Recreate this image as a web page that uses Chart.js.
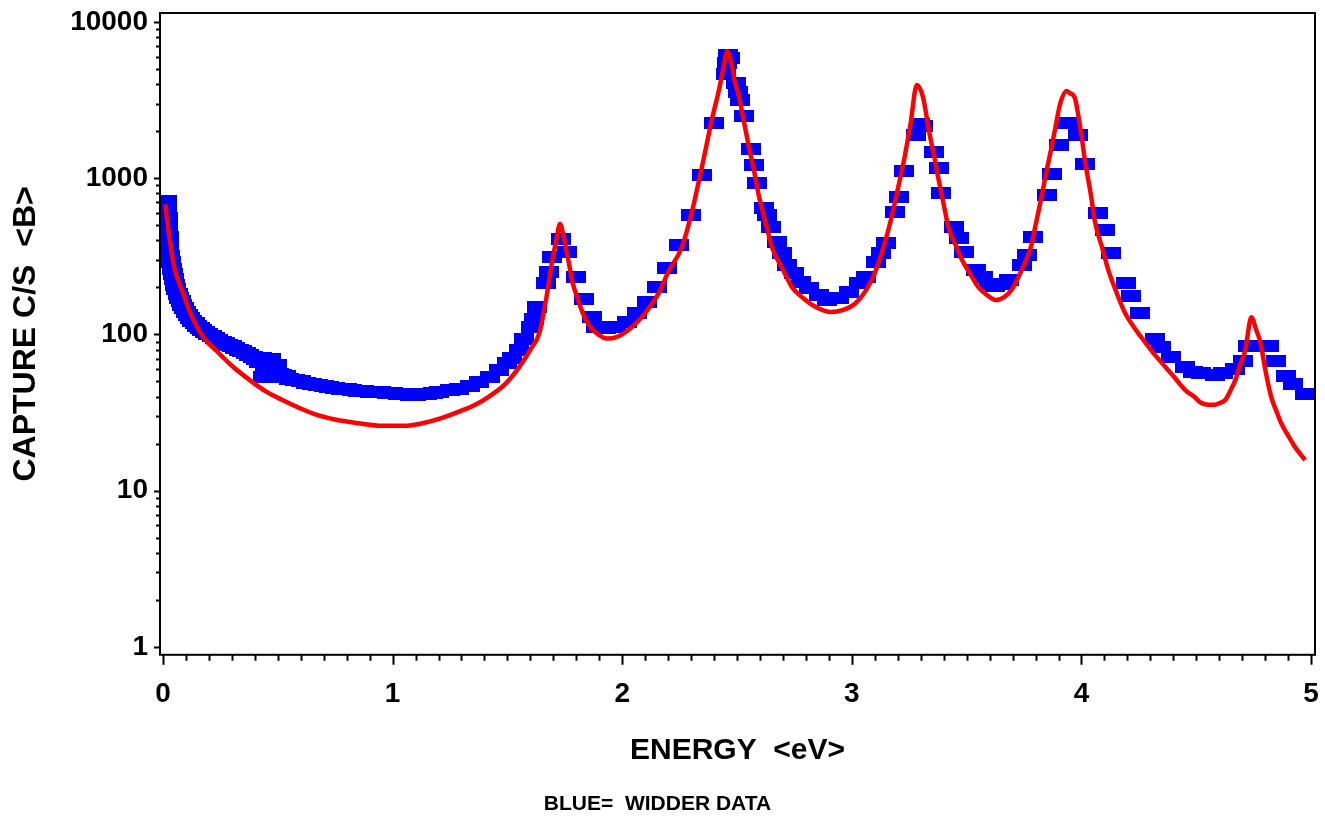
<!DOCTYPE html>
<html>
<head>
<meta charset="utf-8">
<title>Capture cross section</title>
<script src="https://cdn.jsdelivr.net/npm/chart.js@4.4.0/dist/chart.umd.min.js"></script>
<style>
  html, body { margin: 0; padding: 0; background: #fff; }
</style>
</head>
<body>
<canvas id="capture" width="1325" height="817"></canvas>
<script>
/* capture cross section vs energy, log y */

const BLUE = '#0000FF';
const RED  = '#FF0000';
const INK  = '#000000';
const FONT = '"Liberation Sans", Arial, Helvetica, sans-serif';

const X_TICK_LABELS = [0, 1, 2, 3, 4, 5];
const Y_TICK_LABELS = [1, 10, 100, 1000, 10000];

/* Widder data (blue squares) */
const BLUE_E = [
  0.017, 0.019, 0.021, 0.023, 0.025, 0.028, 0.031, 0.034, 0.038, 0.042,
  0.047, 0.052, 0.058, 0.064, 0.070, 0.077, 0.084, 0.092, 0.100, 0.109,
  0.118, 0.128, 0.138, 0.149, 0.160, 0.172, 0.185, 0.198, 0.212, 0.226,
  0.240, 0.255, 0.270, 0.285, 0.300, 0.315, 0.330, 0.345, 0.360, 0.375,
  0.390, 0.405, 0.420, 0.430, 0.435, 0.445, 0.450, 0.455, 0.465, 0.470,
  0.475, 0.485, 0.495, 0.505, 0.520, 0.535, 0.550, 0.575, 0.600, 0.625,
  0.650, 0.675, 0.700, 0.725, 0.750, 0.775, 0.800, 0.825, 0.850, 0.875,
  0.900, 0.925, 0.950, 0.975, 1.000, 1.025, 1.050, 1.075, 1.100, 1.125,
  1.150, 1.175, 1.204, 1.250, 1.291, 1.335, 1.378, 1.422, 1.465, 1.496,
  1.522, 1.552, 1.574, 1.604, 1.617, 1.630, 1.670, 1.683, 1.696, 1.735,
  1.761, 1.800, 1.835, 1.870, 1.887, 1.930, 1.974, 2.020, 2.065, 2.109,
  2.152, 2.196, 2.248, 2.300, 2.348, 2.400, 2.452, 2.457, 2.461, 2.470,
  2.496, 2.504, 2.513, 2.530, 2.560, 2.574, 2.587, 2.617, 2.630, 2.648,
  2.674, 2.696, 2.717, 2.748, 2.778, 2.813, 2.857, 2.891, 2.943, 2.987,
  3.030, 3.060, 3.104, 3.126, 3.148, 3.190, 3.204, 3.226, 3.278, 3.296,
  3.310, 3.357, 3.378, 3.390, 3.443, 3.465, 3.490, 3.540, 3.570, 3.596,
  3.625, 3.652, 3.683, 3.740, 3.762, 3.790, 3.848, 3.870, 3.900, 3.930,
  3.950, 3.987, 4.017, 4.074, 4.104, 4.130, 4.196, 4.217, 4.256, 4.322,
  4.348, 4.390, 4.452, 4.487, 4.522, 4.583, 4.617, 4.670, 4.704, 4.726,
  4.783, 4.817, 4.848, 4.890, 4.922, 4.974, 5.005
];
const BLUE_CS = [
  710, 640, 560, 480, 420, 360, 318, 290, 262, 242,
  225, 208, 194, 182, 172, 163, 155, 147, 140, 134,
  128, 122, 118, 114, 110, 107, 103, 100, 97, 95,
  92, 90, 88, 86, 84, 82, 80, 78, 76, 74,
  72, 70, 67, 71, 53, 62, 69, 55, 64, 70,
  53, 60, 64, 56, 55, 54, 52, 51, 50, 49,
  48, 47.5, 47, 46, 45.5, 45, 44.5, 44, 43.5, 43.5,
  43, 42.5, 42.5, 42, 42, 41.5, 41.5, 41, 41, 41.5,
  41.5, 42, 43, 44, 45, 47, 49.7, 53.5, 59, 66,
  71, 80, 94, 112, 126, 150, 213, 251, 313, 408,
  337, 233, 169, 129, 112, 110, 112, 120, 137, 161,
  200, 267, 374, 582, 1050, 2260, 4650, 5470, 6150, 5900,
  4070, 3560, 3170, 2500, 1540, 1215, 933, 645, 582, 488,
  390, 331, 279, 248, 217, 199, 179, 166, 171, 187,
  214, 233, 291, 331, 385, 608, 760, 1112, 1890, 2225,
  2150, 1472, 1164, 805, 488, 415, 337, 259, 233, 210,
  205, 210, 222, 279, 323, 421, 782, 1065, 1632, 2260,
  2260, 1890, 1233, 600, 467, 331, 214, 176, 137, 94,
  83, 72, 62, 57.6, 56.7, 55, 56.7, 60, 67.7, 84,
  84, 84, 67.7, 54, 48, 41.6, 41.6
];

/* fitted curve (red line) */
const RED_E = [
  0.010, 0.020, 0.030, 0.040, 0.052, 0.070, 0.087, 0.109, 0.140, 0.183,
  0.235, 0.300, 0.378, 0.450, 0.520, 0.600, 0.670, 0.750, 0.850, 0.957,
  1.050, 1.130, 1.209, 1.300, 1.360, 1.420, 1.490, 1.552, 1.600, 1.639,
  1.668, 1.696, 1.713, 1.729, 1.745, 1.765, 1.784, 1.806, 1.828, 1.855,
  1.887, 1.935, 1.975, 2.017, 2.060, 2.100, 2.160, 2.200, 2.260, 2.300,
  2.335, 2.360, 2.390, 2.420, 2.440, 2.457, 2.475, 2.490, 2.509, 2.530,
  2.552, 2.575, 2.596, 2.625, 2.652, 2.700, 2.740, 2.790, 2.843, 2.910,
  2.960, 3.017, 3.060, 3.100, 3.140, 3.170, 3.200, 3.230, 3.255, 3.283,
  3.310, 3.335, 3.360, 3.378, 3.400, 3.420, 3.450, 3.480, 3.515, 3.552,
  3.590, 3.626, 3.660, 3.696, 3.726, 3.755, 3.780, 3.800, 3.826, 3.850,
  3.870, 3.890, 3.908, 3.935, 3.950, 3.970, 3.995, 4.017, 4.040, 4.060,
  4.090, 4.117, 4.150, 4.190, 4.235, 4.280, 4.320, 4.365, 4.410, 4.452,
  4.490, 4.520, 4.550, 4.580, 4.605, 4.626, 4.650, 4.670, 4.690, 4.713,
  4.740, 4.760, 4.780, 4.800, 4.826, 4.850, 4.870, 4.900, 4.930, 4.955,
  4.974
];
const RED_CS = [
  680, 520, 400, 320, 259, 215, 185, 150, 118, 93,
  78, 63, 51, 43, 38, 33.5, 30.5, 28.5, 27, 26,
  26, 27, 29, 32.5, 35.5, 40, 48, 62, 80, 102,
  166, 300, 403, 510, 420, 300, 214, 170, 137, 115,
  102, 94, 96, 104, 118, 137, 185, 250, 363, 580,
  975, 1450, 2360, 3600, 5000, 6500, 5500, 4200, 3300, 2300,
  1585, 1100, 760, 520, 363, 260, 200, 170, 150, 139,
  143, 159, 190, 247, 370, 540, 850, 1370, 2200, 3950,
  3300, 2040, 1350, 975, 680, 490, 380, 300, 245, 200,
  178, 166, 172, 193, 234, 290, 363, 500, 760, 1150,
  1585, 2250, 3020, 3620, 3500, 3300, 2100, 1250, 800, 516,
  360, 258, 190, 137, 108, 88, 74, 62, 52, 44,
  40, 36.5, 35.5, 35.4, 36.5, 38, 44, 51, 63, 79,
  129, 108, 88, 60, 40, 32, 27, 22.5, 19, 17,
  15.7
];

const bluePts = BLUE_E.map((e, i) => ({ x: e, y: BLUE_CS[i] }));
const redPts  = RED_E.map((e, i) => ({ x: e, y: RED_CS[i] }));

/* wide flat square used for the data markers */
const blueMark = document.createElement('canvas');
blueMark.width = 20;
blueMark.height = 12;
(function () {
  const c = blueMark.getContext('2d');
  c.fillStyle = BLUE;
  c.fillRect(0, 0, 20, 12);
})();

/* frame plus major / minor tick marks */
const frameTicks = {
  id: 'frameTicks',
  afterDraw(chart) {
    const { ctx, chartArea: a, scales: { x, y } } = chart;
    ctx.save();
    ctx.strokeStyle = INK;
    ctx.lineWidth = 2;
    ctx.lineCap = 'butt';
    ctx.strokeRect(a.left, a.top, a.right - a.left, a.bottom - a.top);

    ctx.beginPath();
    for (let i = 0; i <= 50; i++) {
      const px = Math.round(x.getPixelForValue(i / 10)) + 0.5;
      const len = (i % 10 === 0) ? 10 : 6;
      ctx.moveTo(px, a.bottom);
      ctx.lineTo(px, a.bottom + len);
    }
    Y_TICK_LABELS.forEach(d => {
      for (let m = 1; m <= 9; m++) {
        const v = d * m;
        if (v > y.max) break;
        const py = Math.round(y.getPixelForValue(v)) + 0.5;
        const len = (m === 1) ? 6 : 4;
        ctx.moveTo(a.left, py);
        ctx.lineTo(a.left - len, py);
      }
    });
    ctx.stroke();
    ctx.restore();
  },
};

new Chart(document.getElementById('capture'), {
  type: 'scatter',
  data: {
    datasets: [
      {
        type: 'line',
        label: 'Fit',
        data: redPts,
        borderColor: RED,
        borderWidth: 4.5,
        pointRadius: 0,
        fill: false,
        cubicInterpolationMode: 'monotone',
        order: 0,
      },
      {
        label: 'Widder data',
        data: bluePts,
        pointStyle: blueMark,
        pointRadius: 10,
        backgroundColor: BLUE,
        borderWidth: 0,
        clip: 0,
        order: 1,
      },
    ],
  },
  options: {
    responsive: false,
    animation: false,
    events: [],
    layout: { padding: { top: 13, right: 10, left: 0, bottom: 0 } },
    plugins: {
      legend: { display: false },
      tooltip: { enabled: false },
      subtitle: {
        display: true,
        position: 'bottom',
        text: 'BLUE=  WIDDER DATA',
        color: INK,
        font: { family: FONT, size: 21, weight: 'bold' },
        padding: { top: 3, bottom: 0 },
      },
    },
    scales: {
      x: {
        type: 'linear',
        min: -0.013,
        max: 5.017,
        afterBuildTicks: s => { s.ticks = X_TICK_LABELS.map(v => ({ value: v })); },
        afterFit: s => { s.height = 134; s.paddingLeft = 0; s.paddingRight = 0; },
        grid: { display: false, drawTicks: false },
        border: { display: false },
        ticks: {
          color: INK,
          font: { family: FONT, size: 28, weight: 'bold' },
          padding: 23,
          autoSkip: false,
          maxRotation: 0,
          callback: v => String(v),
        },
        title: {
          display: true,
          text: 'ENERGY  <eV>',
          color: INK,
          font: { family: FONT, size: 30, weight: 'bold' },
          padding: { top: 0, bottom: 20 },
        },
      },
      y: {
        type: 'logarithmic',
        min: 0.889,
        max: 11420,
        afterBuildTicks: s => { s.ticks = Y_TICK_LABELS.map(v => ({ value: v })); },
        afterFit: s => { s.width = 160; s.paddingTop = 0; s.paddingBottom = 0; },
        grid: { display: false, drawTicks: false },
        border: { display: false },
        ticks: {
          color: INK,
          font: { family: FONT, size: 28, weight: 'bold' },
          padding: 12,
          autoSkip: false,
          callback: v => String(v),
        },
        title: {
          display: true,
          text: 'CAPTURE C/S  <B>',
          color: INK,
          font: { family: FONT, size: 32, weight: 'bold' },
          padding: { top: 7, bottom: 0 },
        },
      },
    },
  },
  plugins: [frameTicks],
});
</script>
</body>
</html>
